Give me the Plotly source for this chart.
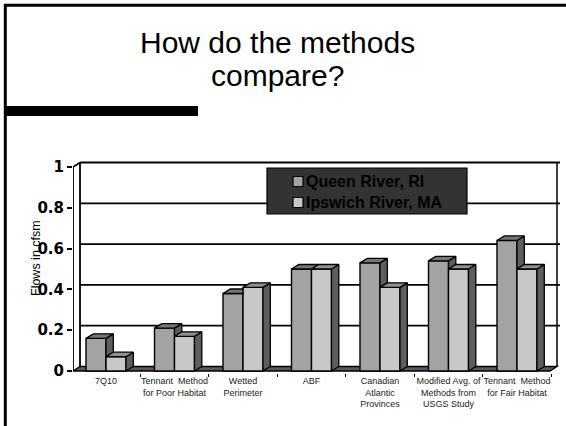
import plotly.graph_objects as go

# ---- data ----
categories = [
    "7Q10",
    "Tennant  Method<br>for Poor Habitat",
    "Wetted<br>Perimeter",
    "ABF",
    "Canadian<br>Atlantic<br>Provinces",
    "Modified Avg. of<br>Methods from<br>USGS Study",
    "Tennant  Method<br>for Fair Habitat",
]
series_names = ["Queen River, RI", "Ipswich River, MA"]
queen = [0.16, 0.21, 0.38, 0.50, 0.53, 0.54, 0.64]
ipswich = [0.07, 0.17, 0.41, 0.50, 0.41, 0.50, 0.50]
y_ticks = [0, 0.2, 0.4, 0.6, 0.8, 1.0]
y_tick_text = ["0", "0.2", "0.4", "0.6", "0.8", "1"]

# ---- figure geometry (pixels) ----
W, H = 566, 426
PL, PR, PT, PB = 73, 566, 150, 373
SLOT = 68.5            # px per category
C0 = 106               # px of first category centre
Y0 = 371               # px of value 0
YS = 204               # px per unit value

def px_x(p):
    return (p - PL) / (PR - PL)

def px_y(p):
    return (PB - p) / (PB - PT)

x_range = [(PL - C0) / SLOT, (PR - C0) / SLOT]
y_range = [(Y0 - PB) / YS, (Y0 - PT) / YS]

BW = 20 / SLOT         # bar width in category units
DX = 7.3 / SLOT        # depth offset (x)
DY = 4.5 / YS          # depth offset (y)

Q_FRONT, Q_TOP = "#a3a3a3", "#767676"
I_FRONT, I_TOP = "#c8c8c8", "#909090"
SIDE = "#5e5e5e"
EDGE = dict(color="black", width=1.4)

xs = list(range(len(categories)))
fig = go.Figure()

# front faces of the bars
fig.add_trace(go.Bar(x=xs, y=queen, width=BW, offset=-BW, marker=dict(color=Q_FRONT, line=EDGE),
                     name=series_names[0], showlegend=False, hoverinfo="skip"))
fig.add_trace(go.Bar(x=xs, y=ipswich, width=BW, offset=0, marker=dict(color=I_FRONT, line=EDGE),
                     name=series_names[1], showlegend=False, hoverinfo="skip"))

# top and side faces of the 3-D bars, built from the same values
def poly_trace(px, py, color):
    return go.Scatter(x=px, y=py, mode="lines", fill="toself", fillcolor=color,
                      line=dict(color="black", width=1.3), showlegend=False, hoverinfo="skip")

q_top_x, q_top_y, q_side_x, q_side_y = [], [], [], []
i_top_x, i_top_y, i_side_x, i_side_y = [], [], [], []
for i, (vq, vi) in enumerate(zip(queen, ipswich)):
    xl, xm, xr = i - BW, i, i + BW
    # Queen River: top face clipped where the Ipswich bar hides it
    if vq >= vi:
        q_top_x += [xl, xl + DX, xm + DX, xm, xl, None]
        q_top_y += [vq, vq + DY, vq + DY, vq, vq, None]
    else:
        q_top_x += [xl, xl + DX, xm, xm, xl, None]
        q_top_y += [vq, vq + DY, vq + DY, vq, vq, None]
    if vq > vi:
        q_side_x += [xm, xm + DX, xm + DX, xm, xm, None]
        q_side_y += [vi, vi + DY, vq + DY, vq, vi, None]
    # Ipswich River
    i_top_x += [xm, xm + DX, xr + DX, xr, xm, None]
    i_top_y += [vi, vi + DY, vi + DY, vi, vi, None]
    i_side_x += [xr, xr + DX, xr + DX, xr, xr, None]
    i_side_y += [0, DY, vi + DY, vi, 0, None]

fig.add_trace(poly_trace(q_side_x, q_side_y, SIDE))
fig.add_trace(poly_trace(q_top_x, q_top_y, Q_TOP))
fig.add_trace(poly_trace(i_side_x, i_side_y, SIDE))
fig.add_trace(poly_trace(i_top_x, i_top_y, I_TOP))

shapes = []
xf_l = x_range[0]
xf_r = len(categories) - 1 + (C0 - PL) / SLOT
xb_l, xb_r = xf_l + DX * 0.96, xf_r + DX * 0.96

# floor
shapes.append(dict(type="path", xref="x", yref="y", layer="below",
                   path=f"M {xf_l},0 L {xf_r},0 L {xb_r},{DY} L {xb_l},{DY} Z",
                   fillcolor="#5a5a5a", line=dict(color="black", width=1.3)))
# back-wall gridlines
for v in y_ticks[1:]:
    shapes.append(dict(type="line", xref="x", yref="y", layer="below",
                       x0=xb_l, x1=xb_r + 3 / SLOT, y0=v + DY, y1=v + DY,
                       line=dict(color="black", width=1.8)))
# walls
shapes.append(dict(type="line", xref="x", yref="y", layer="below",
                   x0=xb_r, x1=xb_r, y0=DY, y1=1 + DY, line=dict(color="black", width=1.5)))
shapes.append(dict(type="line", xref="x", yref="y", x0=xf_l, x1=xf_l, y0=0, y1=1,
                   line=dict(color="black", width=1.8)))
shapes.append(dict(type="line", xref="x", yref="y", x0=xb_l, x1=xb_l, y0=DY, y1=1 + DY,
                   line=dict(color="black", width=1.8)))
shapes.append(dict(type="line", xref="x", yref="y", x0=xf_l, x1=xb_l, y0=1, y1=1 + DY,
                   line=dict(color="black", width=1.5)))

# slide frame and accent bar
shapes.append(dict(type="line", xref="paper", yref="paper", x0=px_x(4), x1=px_x(566),
                   y0=px_y(5.3), y1=px_y(5.3), line=dict(color="black", width=3)))
shapes.append(dict(type="line", xref="paper", yref="paper", x0=px_x(5.3), x1=px_x(5.3),
                   y0=px_y(4), y1=px_y(426), line=dict(color="black", width=3)))
shapes.append(dict(type="rect", xref="paper", yref="paper", x0=px_x(5), x1=px_x(198),
                   y0=px_y(106), y1=px_y(116), fillcolor="black", line=dict(width=0)))

# legend box
shapes.append(dict(type="rect", xref="paper", yref="paper", layer="above",
                   x0=px_x(267), x1=px_x(467), y0=px_y(168), y1=px_y(214),
                   fillcolor="#333333", line=dict(color="black", width=1.2)))
annotations = []
for k, (name, col) in enumerate(zip(series_names, [Q_FRONT, I_FRONT])):
    cy = 181.5 + 21 * k
    shapes.append(dict(type="rect", xref="paper", yref="paper", layer="above",
                       x0=px_x(293), x1=px_x(303), y0=px_y(cy - 5), y1=px_y(cy + 5),
                       fillcolor=col, line=dict(color="black", width=1.2)))
    annotations.append(dict(xref="paper", yref="paper", x=px_x(303.5), y=px_y(cy),
                            xanchor="left", yanchor="middle", showarrow=False, text=name,
                            font=dict(family="Liberation Sans, Arial", size=16,
                                      color="black", weight="bold")))

# title
for txt, cy in [("How do the methods", 42.5), ("compare?", 75.5)]:
    annotations.append(dict(xref="paper", yref="paper", x=px_x(277.5), y=px_y(cy),
                            xanchor="center", yanchor="middle", showarrow=False, text=txt,
                            font=dict(family="Liberation Sans, Arial", size=30, color="black")))

# y-axis title
annotations.append(dict(xref="paper", yref="paper", x=px_x(36), y=px_y(258),
                        xanchor="center", yanchor="middle", showarrow=False,
                        text="Flows in cfsm", textangle=-90,
                        font=dict(family="Liberation Sans, Arial", size=12.5, color="black")))

fig.update_layout(
    width=W, height=H,
    margin=dict(l=PL, r=W - PR, t=PT, b=H - PB, pad=0),
    paper_bgcolor="white", plot_bgcolor="white",
    showlegend=False, barmode="overlay",
    shapes=shapes, annotations=annotations,
    xaxis=dict(range=x_range, tickmode="array", tickvals=xs, ticktext=categories,
               ticks="", showgrid=False, zeroline=False, showline=False,
               ticklabelstandoff=1,
               tickfont=dict(family="Liberation Sans, Arial", size=9, color="#222222"),
               minor=dict(tickvals=[k - 0.5 for k in range(len(categories) + 1)],
                          ticks="outside", ticklen=3, tickwidth=1.2, tickcolor="black",
                          showgrid=False)),
    yaxis=dict(range=y_range, tickmode="array", tickvals=y_ticks, ticktext=y_tick_text,
               ticks="outside", ticklen=5, tickwidth=1.5, tickcolor="black",
               showgrid=False, zeroline=False, showline=False,
               tickfont=dict(family="DejaVu Sans", size=15, color="black", weight="bold")),
)

fig.write_html("out.html")
